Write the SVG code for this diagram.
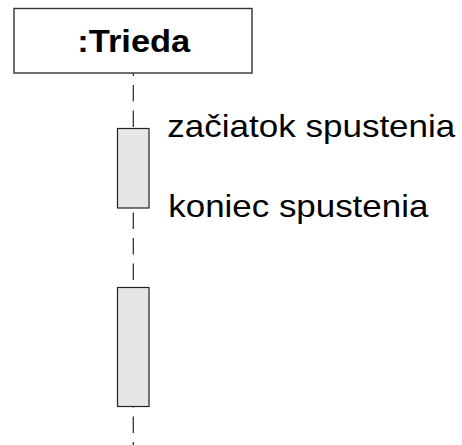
<svg xmlns="http://www.w3.org/2000/svg" width="462" height="445" viewBox="0 0 462 445">
<style>
.lbl{font-family:"Liberation Sans",Arial,sans-serif;fill:#000}
.act{fill:#e6e6e6;stroke:#222;stroke-width:1.2}
.life{stroke:#333;stroke-width:1.3;stroke-dasharray:16.5 9;fill:none}
</style>
<rect width="462" height="445" fill="#fff"/>
<g id="connectors">
<line class="life" x1="133.3" y1="8.5" x2="133.3" y2="445"/>
</g>
<g id="trieda">
<rect x="14" y="8.5" width="238" height="64.5" fill="#fff" stroke="#333" stroke-width="1.4"/>
<text class="lbl" x="77.3" y="52" font-size="31" font-weight="bold" textLength="113" lengthAdjust="spacingAndGlyphs">:Trieda</text>
</g>
<g id="activation1">
<rect class="act" x="117.5" y="128.5" width="31.5" height="79.5"/>
</g>
<g id="activation2">
<rect class="act" x="117.5" y="287.5" width="31.5" height="119"/>
</g>
<g id="label-start">
<text class="lbl" x="167.3" y="137" font-size="32" textLength="288" lengthAdjust="spacingAndGlyphs">začiatok spustenia</text>
</g>
<g id="label-end">
<text class="lbl" x="168.3" y="217" font-size="32" textLength="260" lengthAdjust="spacingAndGlyphs">koniec spustenia</text>
</g>
</svg>
